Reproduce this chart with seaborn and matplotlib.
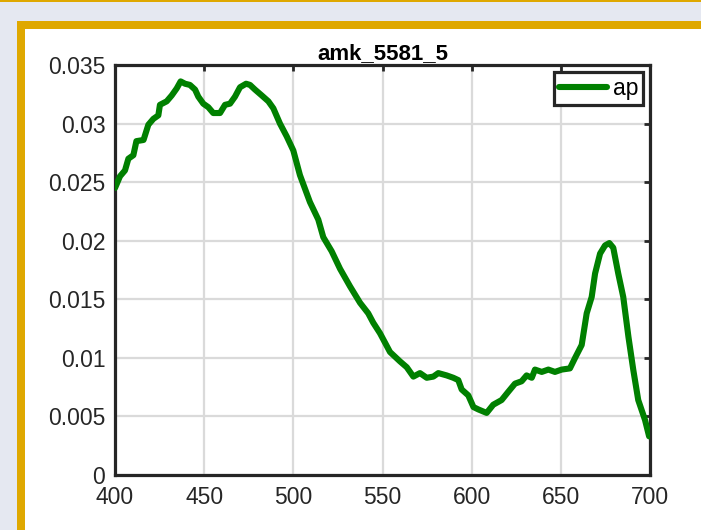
import matplotlib
matplotlib.use("Agg")
import matplotlib.pyplot as plt
from matplotlib.patches import Rectangle
import numpy as np
import pandas as pd
import seaborn as sns

# Particulate absorption spectrum for sample amk_5581_5
wavelength = [400, 402.8, 405.6, 407.5, 410.3, 412, 416, 418.7, 421.5, 424.3,
              425.2, 429, 431.8, 434.6, 436.8, 439.3, 442, 444.9, 446.7, 449.5,
              452.3, 455.1, 458.9, 461.7, 464.5, 467.3, 470.1, 473.5, 475.7, 478.5,
              482.3, 486, 488.8, 492.5, 496.3, 500, 503.7, 509.3, 514, 516.8,
              521.5, 526.2, 531.8, 537.4, 542, 544.8, 548.6, 554.2, 559.8, 563.6,
              567.3, 571, 574.8, 578.5, 581.3, 586, 589.7, 592.5, 594.4, 598.1,
              601, 603.7, 608.4, 612.1, 616.8, 620.5, 624.3, 628, 630.8, 633.7,
              635.5, 639.3, 643, 646.7, 650.5, 655.1, 658, 661.7, 664.5, 667.3,
              669.2, 672, 674.8, 677.2, 679.4, 682.2, 685, 687.9, 690.6, 693.4,
              697.2, 699.5]
ap_values = [0.0245, 0.0255, 0.0260, 0.0270, 0.0273, 0.0285, 0.0286, 0.0299, 0.0304, 0.0307,
             0.0316, 0.0319, 0.0324, 0.0330, 0.0336, 0.0334, 0.0333, 0.0329, 0.0323, 0.0317,
             0.0314, 0.0309, 0.0309, 0.0316, 0.0317, 0.0323, 0.0331, 0.0334, 0.0333, 0.0329,
             0.0324, 0.0319, 0.0313, 0.0300, 0.0289, 0.0277, 0.0256, 0.0233, 0.0218, 0.0203,
             0.0191, 0.0176, 0.0161, 0.0147, 0.0138, 0.0130, 0.0121, 0.0105, 0.0097, 0.0092,
             0.0084, 0.0087, 0.0083, 0.0084, 0.0087, 0.0085, 0.0083, 0.0081, 0.0073, 0.0068,
             0.0058, 0.0056, 0.0053, 0.0060, 0.0064, 0.0071, 0.0078, 0.0080, 0.0085, 0.0083,
             0.0090, 0.0088, 0.0090, 0.0088, 0.0090, 0.0091, 0.0100, 0.0111, 0.0138, 0.0152,
             0.0172, 0.0189, 0.0196, 0.0198, 0.0194, 0.0172, 0.0152, 0.0118, 0.0090, 0.0064,
             0.0047, 0.0033]
x_ticks = [400, 450, 500, 550, 600, 650, 700]
y_ticks = [0, 0.005, 0.01, 0.015, 0.02, 0.025, 0.03, 0.035]
y_tick_labels = ["0", "0.005", "0.01", "0.015", "0.02", "0.025", "0.03", "0.035"]
title = "amk_5581_5"
series_name = "ap"

sns.set_theme(style="white")
plt.rcParams["font.family"] = ["Liberation Sans", "DejaVu Sans"]

W, H = 701, 530
fig = plt.figure(figsize=(W / 100, H / 100), dpi=100)
fig.patch.set_facecolor("#e5e8f1")

gold = "#dfa800"
# thin rule at the very top, then the gold framed white panel (behind the axes)
for rect, color in [((0, 1 - 1.5 / H, 1, 1.5 / H), gold),
                    ((17 / W, 0, 1 - 17 / W, 1 - 21 / H), gold),
                    ((25 / W, 0, 1 - 25 / W, 1 - 29 / H), "white")]:
    x0, y0, w, h = rect
    fig.patches.append(Rectangle((x0, y0), w, h, transform=fig.transFigure,
                                 facecolor=color, edgecolor="none", zorder=-5))

ax = fig.add_axes([115 / W, 1 - 475 / H, (650 - 115) / W, (475 - 65) / H])
ax.set_facecolor("white")

df = pd.DataFrame({"wavelength": wavelength, series_name: ap_values})
sns.lineplot(data=df, x="wavelength", y=series_name, color="#008000", linewidth=4.4,
             label=series_name, ax=ax, zorder=3,
             solid_joinstyle="round", solid_capstyle="round")

ax.set_xlim(400, 700)
ax.set_ylim(0, 0.035)
ax.set_xticks(x_ticks)
ax.set_yticks(y_ticks)
ax.set_yticklabels(y_tick_labels)
ax.set_xlabel("")
ax.set_ylabel("")
ax.grid(True, color="#dadada", linewidth=1.6)
ax.set_axisbelow(True)
for s in ax.spines.values():
    s.set_visible(True)
    s.set_color("#262626")
    s.set_linewidth(2.3)
ax.tick_params(direction="in", length=4, width=2, colors="#262626",
               top=True, right=True, labelsize=16.5, labelcolor="#262626")
ax.tick_params(axis="x", pad=8)
ax.tick_params(axis="y", pad=7)
ax.set_title(title, fontsize=16, fontweight="bold", color="black", pad=4)

leg = ax.legend(loc="upper right", fontsize=16.5, frameon=True, fancybox=False,
                framealpha=1, edgecolor="#262626", handlelength=2.1,
                borderpad=0.22, handletextpad=0.25, borderaxespad=0.3)
leg.get_frame().set_linewidth(2.3)
for t in leg.get_texts():
    t.set_color("black")

fig.savefig("out.png", dpi=100, facecolor=fig.get_facecolor())
